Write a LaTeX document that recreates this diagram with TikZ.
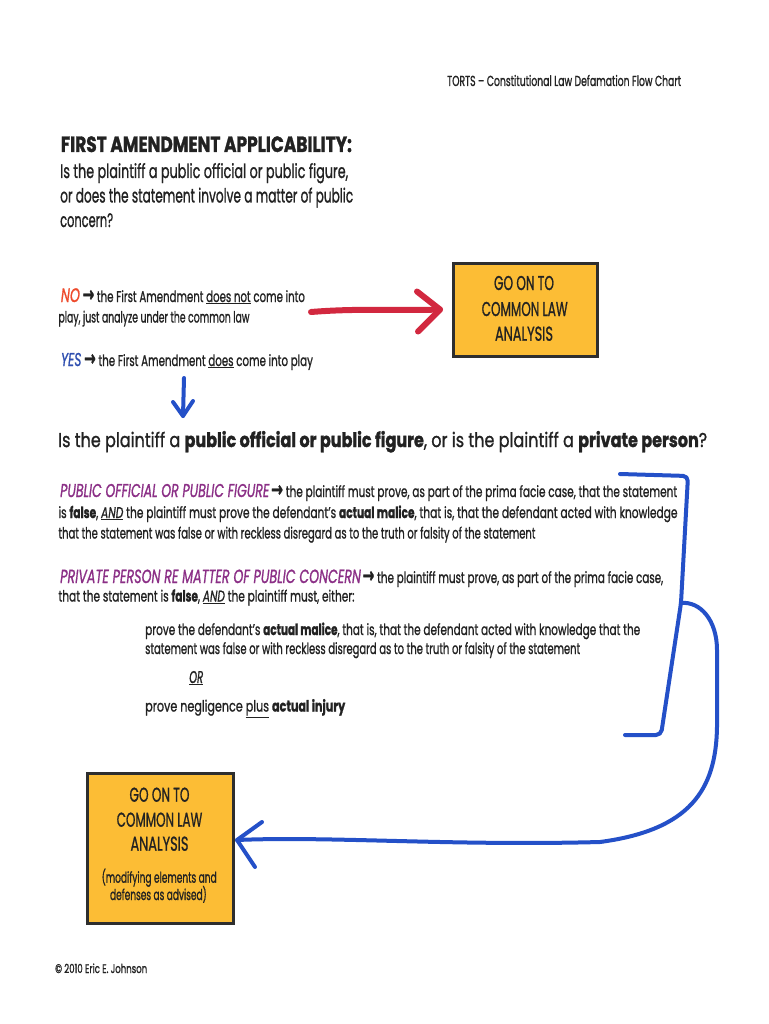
\documentclass[tikz,border=0pt]{standalone}
\usepackage{fontspec}
\usepackage{graphicx}
\setmainfont{Poppins}[UprightFeatures={FakeBold=1.3}, ItalicFeatures={FakeBold=1.3}, BoldFeatures={FakeBold=1.6}]
\newfontfamily\symf{DejaVu Sans}[FakeBold=1.5]
\definecolor{ink}{HTML}{222222}
\definecolor{boxfill}{HTML}{FCBD35}
\definecolor{boxline}{HTML}{2E2E2E}
\definecolor{penred}{HTML}{D2283F}
\definecolor{penblue}{HTML}{2450C8}
\definecolor{ppl}{HTML}{8B2F86}
\definecolor{nored}{HTML}{EE4A2C}
\definecolor{yesblue}{HTML}{2F4FB0}
\newcommand\fit[2]{\resizebox{#1pt}{\height}{#2}}
\newcommand\fs[1]{\fontsize{#1pt}{#1pt}\selectfont}
\newcommand\ar{\raisebox{0.5pt}{\symf\bfseries\fs{21}→}}
\tikzset{
  txt/.style={anchor=base west, inner sep=0pt, text=ink},
  ctr/.style={anchor=base, inner sep=0pt, text=ink},
  ybox/.style={draw=boxline, fill=boxfill, line width=3pt, inner sep=0pt},
  bluepen/.style={draw=penblue, line width=4pt, line cap=round, line join=round},
  redpen/.style={draw=penred, line width=6pt, line cap=round, line join=round},
}
\begin{document}
\begin{tikzpicture}[x=1pt,y=-1pt]
\useasboundingbox[fill=white] (0,0) rectangle (768,1024);

% header
\node[txt] (hdr) at (447,86) {\fit{234}{\fs{14.5}TORTS – Constitutional Law Defamation Flow Chart}};

% title and question
\node[txt] (title) at (60.7,152) {\fit{291}{\fs{22}\bfseries FIRST AMENDMENT APPLICABILITY:}};
\node[txt] (q1) at (60,178) {\fit{288}{\fs{19.5}Is the plaintiff a public official or public figure,}};
\node[txt] (q2) at (60,202.5) {\fit{293}{\fs{19.5}or does the statement involve a matter of public}};
\node[txt] (q3) at (60,227) {\fit{53}{\fs{19.5}concern?}};

% NO / YES
\node[txt] (no1) at (60.7,302) {\fit{244}{\fs{15.5}{\fs{19.5}\color{nored}\itshape NO} \ar{} the First Amendment \underline{does not} come into}};
\node[txt] (no2) at (58.3,322.5) {\fit{191}{\fs{15.5}play, just analyze under the common law}};
\node[txt] (yes) at (60.7,366) {\fit{252}{\fs{15.5}{\fs{18.5}\color{yesblue}\itshape YES} \ar{} the First Amendment \underline{does} come into play}};

% box 1
\node[ybox, minimum width=144pt, minimum height=93pt] (box1) at (525,309.5) {};
\node[ctr] (b1a) at (524,290) {\fit{60}{\fs{20}GO ON TO}};
\node[ctr] (b1b) at (524.7,316) {\fit{86}{\fs{20}COMMON LAW}};
\node[ctr] (b1c) at (524,340.7) {\fit{58}{\fs{20}ANALYSIS}};

% red arrow
\coordinate (rs) at (311,312);
\coordinate (rt) at (440,309.5);
\draw[redpen] (rs) .. controls (360,308) and (400,311) .. (rt);
\draw[redpen] (rt) ++(-23,-18) -- (rt) -- ++(-22,22);

% blue down arrow
\coordinate (ds) at (184,378);
\coordinate (dt) at (183,416);
\draw[bluepen] (ds) -- (dt);
\draw[bluepen] (dt) ++(-10,-14) -- (dt) -- ++(10,-15);

% big question
\node[txt] (bigq) at (58,447) {\fit{649}{\fs{20}Is the plaintiff a {\bfseries public official or public figure}, or is the plaintiff a {\bfseries private person}?}};

% public official paragraph
\node[txt] (po1) at (60,497) {\fit{617}{\fs{15.5}{\fs{18.5}\color{ppl}\itshape PUBLIC OFFICIAL OR PUBLIC FIGURE}\,\ar{} the plaintiff must prove, as part of the prima facie case, that the statement}};
\node[txt] (po2) at (58.3,518) {\fit{619}{\fs{15.5}is {\bfseries false}, \underline{\itshape AND} the plaintiff must prove the defendant’s {\bfseries actual malice}, that is, that the defendant acted with knowledge}};
\node[txt] (po3) at (58.3,538.5) {\fit{477}{\fs{15.5}that the statement was false or with reckless disregard as to the truth or falsity of the statement}};

% private person paragraph
\node[txt] (pp1) at (60,583) {\fit{603}{\fs{15.5}{\fs{19}\color{ppl}\itshape PRIVATE PERSON RE MATTER OF PUBLIC CONCERN}\,\ar{} the plaintiff must prove, as part of the prima facie case,}};
\node[txt] (pp2) at (58.3,601.5) {\fit{296}{\fs{15.5}that the statement is {\bfseries false}, \underline{\itshape AND} the plaintiff must, either:}};
\node[txt] (in1) at (145,635) {\fit{495}{\fs{15.5}prove the defendant’s {\bfseries actual malice}, that is, that the defendant acted with knowledge that the}};
\node[txt] (in2) at (145,654) {\fit{435}{\fs{15.5}statement was false or with reckless disregard as to the truth or falsity of the statement}};
\node[txt] (orn) at (189,683) {\fit{14}{\fs{17}\underline{\itshape OR}}};
\node[txt] (in3) at (145,711.5) {\fit{200}{\fs{15.5}prove negligence \underline{plus} {\bfseries actual injury}}};

% blue bracket
\coordinate (bk1) at (620,474);
\coordinate (bk2) at (688,476);
\coordinate (bj) at (681,603);
\coordinate (bk3) at (661,735);
\coordinate (bk4) at (625,735);
\draw[bluepen, rounded corners=5pt] (bk1) -- (bk2) -- (bj) -- (bk3) -- (bk4);

% box 2
\node[ybox, minimum width=146pt, minimum height=150pt] (box2) at (160,848) {};
\node[ctr] (b2a) at (159.5,801.7) {\fit{60}{\fs{20}GO ON TO}};
\node[ctr] (b2b) at (159.5,826.7) {\fit{85.6}{\fs{20}COMMON LAW}};
\node[ctr] (b2c) at (159.5,850.7) {\fit{58}{\fs{20}ANALYSIS}};
\node[ctr] (b2d) at (159.2,882.7) {\fit{115}{\fs{15}(modifying elements and}};
\node[ctr] (b2e) at (158.4,900) {\fit{96.7}{\fs{15}defenses as advised)}};

% blue curve to box 2
\coordinate (bt) at (237,840);
\draw[bluepen] (bj) .. controls (700,601) and (717,620) .. (717,650)
  -- (717,727) .. controls (716,790) and (690,830) .. (600,842)
  .. controls (450,846) and (330,836) .. (bt);
\draw[bluepen] (bt) ++(25,-18) -- (bt) -- ++(18,27);

% copyright
\node[txt] (copy) at (55,973) {\fit{92}{\fs{12.5}© 2010 Eric E. Johnson}};
\end{tikzpicture}
\end{document}
